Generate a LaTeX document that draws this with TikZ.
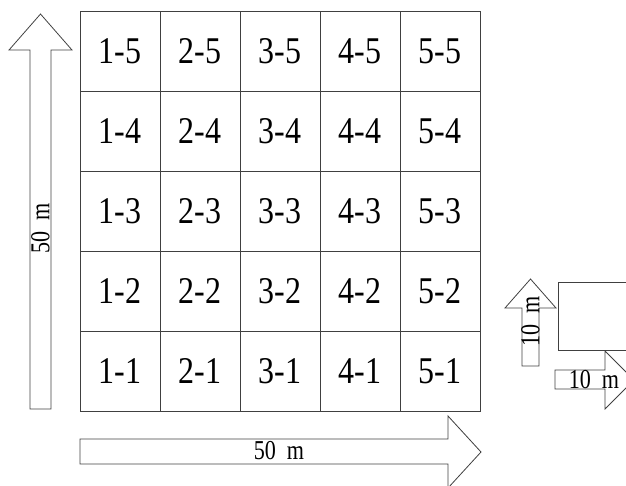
\documentclass[tikz,border=0pt]{standalone}
\usepackage{fontspec}
\usepackage{graphicx}
\setmainfont{Liberation Serif}
\usetikzlibrary{positioning}
\newcommand{\meas}[1]{\scalebox{0.85}[1.05]{#1\hspace{0.5em}m}}
\newcommand{\plotid}[2]{\scalebox{1}[1.18]{#1-#2}}

\begin{document}
\begin{tikzpicture}[x=1pt, y=-1pt, line width=0.8pt,
    cell/.style={rectangle, draw=black!75, minimum size=80pt, inner sep=0pt,
      font=\fontsize{32}{34}\selectfont},
    unit/.style={inner sep=0pt, font=\fontsize{26}{28}\selectfont},
    outline/.style={draw=black!75, line join=miter}]
    \useasboundingbox (0,0) rectangle (626,485);
    \clip (0,0) rectangle (626,485);
    % plot grid
    \foreach \i in {1,...,5}
        \foreach \j in {1,...,5}
            \node[cell] (c\i\j) at ({40+80*\i}, {51+80*(5-\j)}) {\plotid{\i}{\j}};
    % 50 m arrows
    \draw[outline] (30,409) -- (30,50) -- (9,50) -- (40.5,14) -- (72,50)
        -- (51,50) -- (51,409) -- cycle;
    \node[unit, rotate=90] (side) at (40.5,228) {\meas{50}};
    \draw[outline] (80,439) -- (448,439) -- (448,416) -- (481,452) -- (448,488)
        -- (448,464) -- (80,464) -- cycle;
    \node[unit] (base) at (279,451) {\meas{50}};
    % subplot
    \draw[outline] (558,282) rectangle (660,350);
    \draw[outline] (522,366) -- (522,308) -- (505,308) -- (530.5,279) -- (556,308)
        -- (539,308) -- (539,366) -- cycle;
    \node[unit, rotate=90] (subside) at (530.5,321) {\meas{10}};
    \draw[outline] (555,370) -- (605,370) -- (605,351) -- (634,380) -- (605,409)
        -- (605,389) -- (555,389) -- cycle;
    \node[unit] (subbase) at (594,380) {\meas{10}};
\end{tikzpicture}
\end{document}
